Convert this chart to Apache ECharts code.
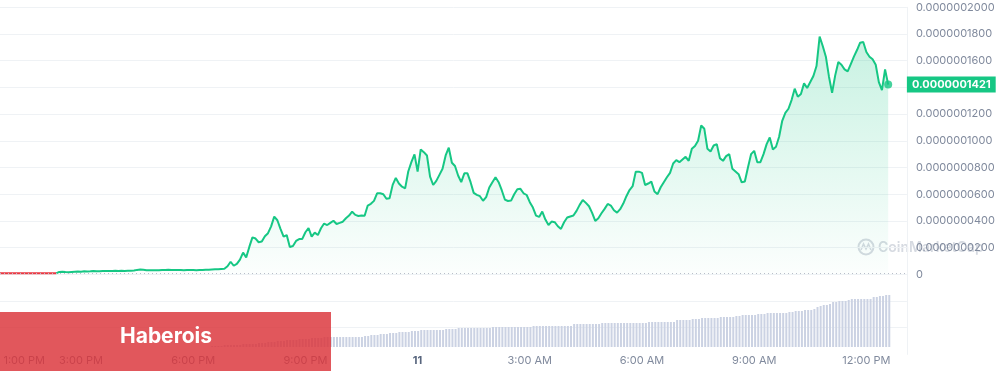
<!DOCTYPE html>
<html>
<head>
<meta charset="utf-8">
<script src="https://cdn.jsdelivr.net/npm/echarts@6/dist/echarts.min.js"></script>
<style>
html,body{margin:0;padding:0;background:#fff;}
#chart{width:998px;height:371px;}
</style>
</head>
<body>
<div id="chart"></div>
<script>
// Time slots: 5-minute steps starting 12:50 PM (day 10) — midnight shown as the day "11"
const startMinutes = 770;
const stepMinutes = 5;
const slotCount = 292;
const dayLabel = '11';
const tickLabels = ['1:00 PM','3:00 PM','6:00 PM','9:00 PM','11','3:00 AM','6:00 AM','9:00 AM','12:00 PM'];

// Price in units of 1e-10 (e.g. 1421 -> 0.0000001421)
const price = [
7,7,7,7,7,7,7,7,7,7,7,7,7,7,7,7,7,7,7,
18,19,17,16,18,20,21,20,22,21,22,24,23,22,24,25,24,25,26,25,26,25,26,27,28,33,36,34,31,30,31,30,31,32,33,34,33,32,33,32,31,32,33,32,31,32,33,34,35,36,
37,38,40,42,60,94,64,78,110,162,127,205,277,268,240,245,285,308,359,432,405,340,282,294,205,212,250,264,265,315,347,282,312,294,345,380,369,385,401,377,385,394,420,440,469,445,437,440,438,515,528,550,607,607,600,566,569,670,722,680,656,644,770,840,898,769,935,915,890,731,669,700,745,790,890,948,836,811,740,690,756,756,690,610,595,585,551,578,650,690,727,690,630,560,549,552,600,637,640,607,594,540,500,440,430,470,410,369,395,390,360,340,390,425,433,440,475,520,556,535,510,460,400,420,457,490,527,515,480,462,488,530,585,631,660,769,769,760,669,680,694,620,600,652,690,727,760,830,855,840,860,880,850,940,961,1000,1115,1090,940,920,965,975,870,850,885,900,790,770,750,689,695,800,900,925,840,840,900,975,1025,935,955,1030,1150,1210,1240,1305,1390,1330,1350,1430,1395,1440,1485,1560,1780,1710,1630,1480,1360,1490,1590,1570,1535,1520,1575,1630,1680,1735,1740,1665,1630,1610,1570,1440,1380,1535,1421
];
// Index of the last point of the opening (red) stretch
const redEnd = 18;

// Volume (relative units)
const volume = [
0,0,0,0,0,0,0,0,0,0,0,0,0,0,0,0,0,0,0,0,0,0,0,0,0,0,0,0,0,0,0,0,0,0,0,0,0,0,0,0,0,0,0,0,0,0,0,0,0,0,0,0,0,0,0,0,0,0,0,0,0,0,0,0,0,0,0,0,
1,1,1,1,2,2,2,2,2,2,3,3,
3,3,3,4,4,4,5,5,5,
6,6,6,7,7,7,7,8,8,8,8,9,9,9,9,10,10,
10,10,10,10,10,10,10,10,10,10,10,
11,11,12,12,12,13,13,13,14,14,14,15,15,15,15,16,
16,16,17,17,17,17,17,17,17,17,18,18,18,18,
19,19,19,19,19,19,19,19,19,19,19,
20,20,20,20,20,20,20,20,20,20,20,20,20,
21,21,21,21,21,21,21,21,21,21,21,21,21,
23,23,23,23,23,23,23,23,23,
24,24,24,24,24,24,24,24,24,24,24,24,24,24,24,
25,25,25,25,25,25,25,25,25,
27,27,27,27,27,
28,28,28,29,29,29,29,29,29,30,30,30,30,30,
31,31,32,32,32,32,32,33,33,33,
34,34,34,34,34,34,34,
35,35,36,36,36,37,37,37,38,
40,41,42,42,43,
45,45,46,46,46,47,
48,48,48,48,48,48,48,
50,50,51,51,52,52
];

function slotLabel(i){
  const m = (startMinutes + stepMinutes*i) % 1440;
  if (m === 0) return dayLabel;
  let h = Math.floor(m/60), mm = m % 60;
  const ap = h >= 12 ? 'PM' : 'AM';
  h = h % 12; if (h === 0) h = 12;
  return h + ':' + (mm < 10 ? '0' : '') + mm + ' ' + ap;
}
const categories = [];
for (let i = 0; i < slotCount; i++) categories.push(slotLabel(i));

const lastIdx = price.length - 1;
const lastPrice = price[lastIdx];
const fmtPrice = v => (v * 1e-10).toFixed(10);
const endDot = price.map((v, i) => i === lastIdx ? v : null);
const redPart = price.map((v, i) => i <= redEnd ? v : null);
const greenPart = price.map((v, i) => i >= redEnd ? v : null);

const FONT = 'Inter, "Noto Sans", sans-serif';
const gridLineColors = ['rgba(0,0,0,0)'];
for (let k = 0; k < 13; k++) gridLineColors.push('#eff2f5');

const chart = echarts.init(document.getElementById('chart'), null, {renderer: 'canvas'});
chart.setOption({
  animation: false,
  backgroundColor: '#fff',
  textStyle: {fontFamily: FONT},
  grid: [
    {left: 0, right: 90, top: 7.3, height: 347.1, containLabel: false},
    {left: 0, right: 90, top: 275, height: 72, containLabel: false}
  ],
  xAxis: [
    {
      type: 'category', gridIndex: 0, data: categories, boundaryGap: false,
      axisLine: {show: false}, axisTick: {show: false},
      splitLine: {show: false},
      axisLabel: {
        margin: 1, color: '#808a9d', fontSize: 11, fontFamily: FONT,
        interval: (idx, val) => idx < price.length && tickLabels.indexOf(val) >= 0,
        formatter: (val, idx) => {
          if (val === dayLabel) return '{b|' + val + '}';
          if (idx === 2) return '{f|' + val + '}';
          return val;
        },
        rich: {
          b: {fontWeight: 'bold', color: '#58667e', fontSize: 11, fontFamily: FONT},
          f: {padding: [0, 0, 0, 36], color: '#808a9d', fontSize: 11, fontFamily: FONT}
        }
      }
    },
    {
      type: 'category', gridIndex: 1, data: categories, boundaryGap: false,
      axisLine: {show: false}, axisTick: {show: false}, axisLabel: {show: false}, splitLine: {show: false}
    }
  ],
  yAxis: [
    {
      type: 'value', gridIndex: 0, position: 'right', min: -600, max: 2000, interval: 200,
      axisLine: {show: true, lineStyle: {color: '#eff2f5'}},
      axisTick: {show: false},
      splitLine: {show: true, lineStyle: {color: gridLineColors, width: 1}},
      axisLabel: {
        margin: 9, color: '#808a9d', fontSize: 11, fontFamily: FONT,
        formatter: v => {
          if (v < 0) return '';
          if (v === 0) return '0';
          if (Math.abs(v - lastPrice) < 60) return '';
          return fmtPrice(v);
        }
      }
    },
    {
      type: 'value', gridIndex: 1, min: 0, max: 72,
      axisLine: {show: false}, axisTick: {show: false}, axisLabel: {show: false}, splitLine: {show: false}
    }
  ],
  series: [
    {
      type: 'line', xAxisIndex: 0, yAxisIndex: 0, data: greenPart,
      showSymbol: false, symbol: 'none', smooth: false, z: 3, connectNulls: false,
      lineStyle: {width: 2, color: '#16c784'}, itemStyle: {color: '#16c784'},
      areaStyle: {
        color: new echarts.graphic.LinearGradient(0, 0, 0, 1, [
          {offset: 0, color: 'rgba(22,199,132,0.34)'},
          {offset: 1, color: 'rgba(22,199,132,0.02)'}
        ])
      },
      markLine: {
        silent: true, symbol: ['none', 'none'], animation: false,
        data: [
          {yAxis: price[0], lineStyle: {type: [1, 3], color: '#b8bec9', width: 1}, label: {show: false}}
        ]
      }
    },
    {
      type: 'line', xAxisIndex: 0, yAxisIndex: 0, data: redPart,
      showSymbol: false, symbol: 'none', smooth: false, z: 3,
      lineStyle: {width: 2, color: '#ea3943'}, itemStyle: {color: '#ea3943'},
      markLine: {
        silent: true, symbol: ['none', 'none'], animation: false,
        lineStyle: {color: 'rgba(255,255,255,0)', width: 1, type: 'solid'},
        data: [
          {
            yAxis: lastPrice,
            label: {
              show: true, position: 'end', distance: 0,
              formatter: () => fmtPrice(lastPrice),
              backgroundColor: '#16c784', color: '#ffffff', fontWeight: 'bold',
              fontSize: 11, fontFamily: FONT, padding: [2, 5, 2, 5], lineHeight: 12
            }
          }
        ]
      }
    },
    {
      type: 'scatter', xAxisIndex: 0, yAxisIndex: 0, data: endDot,
      symbol: 'circle', symbolSize: 8, itemStyle: {color: '#16c784'}, z: 4
    },
    {
      type: 'bar', xAxisIndex: 1, yAxisIndex: 1, data: volume,
      barWidth: 2, itemStyle: {color: '#cbd2e3'}, z: 1
    }
  ],
  graphic: [
    {
      type: 'group', z: 0, silent: true,
      children: [
        {type: 'circle', shape: {cx: 866, cy: 247, r: 7.5}, style: {fill: 'none', stroke: '#d6dae1', lineWidth: 2}},
        {type: 'polyline', shape: {points: [[861, 250], [863.5, 244], [866, 249], [868.5, 244], [871, 250]]}, style: {fill: 'none', stroke: '#d6dae1', lineWidth: 1.6}},
        {type: 'text', x: 878, y: 248, style: {text: 'CoinMarketCap', font: '600 14px ' + FONT, fill: '#d6dae1', textVerticalAlign: 'middle'}}
      ]
    },
    {
      type: 'rect', z: 100, silent: true,
      shape: {x: 0, y: 312, width: 331, height: 59},
      style: {fill: 'rgba(218,50,56,0.82)'}
    },
    {
      type: 'text', z: 101, silent: true, x: 166, y: 337,
      style: {text: 'Haberois', font: 'bold 21px ' + FONT, fill: '#ffffff', textAlign: 'center', textVerticalAlign: 'middle'}
    }
  ]
});
</script>
</body>
</html>
